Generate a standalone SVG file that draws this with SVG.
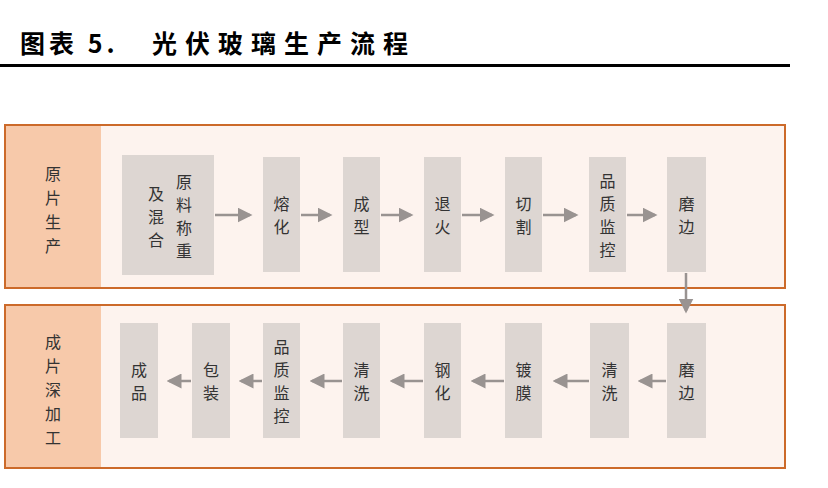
<svg xmlns="http://www.w3.org/2000/svg" width="828" height="488" viewBox="0 0 828 488">
<style>
.t{font-family:"Noto Sans CJK SC",sans-serif;font-size:16px;fill:#333;text-anchor:middle}
.h{font-family:"Noto Sans CJK SC",sans-serif;font-size:25px;font-weight:bold;fill:#000}
.pan{fill:#fdf3ee;stroke:#cc6a2a;stroke-width:2}
.lab{fill:#f7c9aa}
.box{fill:#ddd6d2}
.c{stroke:#999391;stroke-width:2.5;fill:none;marker-end:url(#a)}
</style>
<defs><marker id="a" markerWidth="6" markerHeight="6" refX="5" refY="3" orient="auto" markerUnits="strokeWidth"><path d="M0,0L6,3L0,6z" fill="#999391"/></marker></defs>
<text class="h" x="20" y="53" letter-spacing="4">图表 5.</text>
<text class="h" x="152" y="53" letter-spacing="8">光伏玻璃生产流程</text>
<rect x="0" y="64" width="790" height="3" fill="#000"/>
<g id="panel1"><rect class="pan" x="5" y="125" width="780" height="163"/><rect class="lab" x="6" y="126" width="95" height="161"/>
<text class="t"><tspan x="53" y="180">原</tspan><tspan x="53" y="204">片</tspan><tspan x="53" y="228">生</tspan><tspan x="53" y="252">产</tspan></text></g>
<g id="panel2"><rect class="pan" x="5" y="305" width="780" height="163"/><rect class="lab" x="6" y="306" width="95" height="161"/>
<text class="t"><tspan x="53" y="348">成</tspan><tspan x="53" y="372">片</tspan><tspan x="53" y="396">深</tspan><tspan x="53" y="420">加</tspan><tspan x="53" y="444">工</tspan></text></g>
<g id="n1"><rect class="box" x="122" y="155" width="92" height="120"/><text class="t"><tspan x="184" y="188">原</tspan><tspan x="184" y="211">料</tspan><tspan x="184" y="234">称</tspan><tspan x="184" y="257">重</tspan><tspan x="156" y="200">及</tspan><tspan x="156" y="223">混</tspan><tspan x="156" y="246">合</tspan></text></g>
<g id="n2"><rect class="box" x="263" y="157" width="37" height="115"/><text class="t"><tspan x="281.5" y="210">熔</tspan><tspan x="281.5" y="233">化</tspan></text></g>
<g id="n3"><rect class="box" x="343" y="157" width="37" height="115"/><text class="t"><tspan x="361.5" y="210">成</tspan><tspan x="361.5" y="233">型</tspan></text></g>
<g id="n4"><rect class="box" x="424" y="157" width="37" height="115"/><text class="t"><tspan x="442.5" y="210">退</tspan><tspan x="442.5" y="233">火</tspan></text></g>
<g id="n5"><rect class="box" x="505" y="157" width="37" height="115"/><text class="t"><tspan x="523.5" y="210">切</tspan><tspan x="523.5" y="233">割</tspan></text></g>
<g id="n6"><rect class="box" x="589" y="157" width="37" height="115"/><text class="t"><tspan x="607.5" y="187">品</tspan><tspan x="607.5" y="210">质</tspan><tspan x="607.5" y="233">监</tspan><tspan x="607.5" y="256">控</tspan></text></g>
<g id="n7"><rect class="box" x="667" y="157" width="39" height="115"/><text class="t"><tspan x="686.5" y="210">磨</tspan><tspan x="686.5" y="233">边</tspan></text></g>
<g id="m1"><rect class="box" x="667" y="323" width="39" height="115"/><text class="t"><tspan x="686.5" y="376">磨</tspan><tspan x="686.5" y="399">边</tspan></text></g>
<g id="m2"><rect class="box" x="590" y="323" width="39" height="115"/><text class="t"><tspan x="609.5" y="376">清</tspan><tspan x="609.5" y="399">洗</tspan></text></g>
<g id="m3"><rect class="box" x="505" y="323" width="37" height="115"/><text class="t"><tspan x="523.5" y="376">镀</tspan><tspan x="523.5" y="399">膜</tspan></text></g>
<g id="m4"><rect class="box" x="424" y="323" width="37" height="115"/><text class="t"><tspan x="442.5" y="376">钢</tspan><tspan x="442.5" y="399">化</tspan></text></g>
<g id="m5"><rect class="box" x="343" y="323" width="37" height="115"/><text class="t"><tspan x="361.5" y="376">清</tspan><tspan x="361.5" y="399">洗</tspan></text></g>
<g id="m6"><rect class="box" x="263" y="323" width="37" height="115"/><text class="t"><tspan x="281.5" y="353">品</tspan><tspan x="281.5" y="376">质</tspan><tspan x="281.5" y="399">监</tspan><tspan x="281.5" y="422">控</tspan></text></g>
<g id="m7"><rect class="box" x="192" y="323" width="38" height="115"/><text class="t"><tspan x="211" y="376">包</tspan><tspan x="211" y="399">装</tspan></text></g>
<g id="m8"><rect class="box" x="120" y="323" width="38" height="115"/><text class="t"><tspan x="139" y="376">成</tspan><tspan x="139" y="399">品</tspan></text></g>
<g id="connectors">
<path class="c" d="M215,215H250"/><path class="c" d="M301,215H330"/><path class="c" d="M381,215H411"/><path class="c" d="M462,215H492"/><path class="c" d="M543,215H576"/><path class="c" d="M627,215H655"/>
<path class="c" d="M686,273V311"/>
<path class="c" d="M666,381H640"/><path class="c" d="M589,381H555"/><path class="c" d="M504,381H473"/><path class="c" d="M423,381H392"/><path class="c" d="M342,381H312"/><path class="c" d="M262,381H241"/><path class="c" d="M191,381H169"/>
</g>
</svg>
